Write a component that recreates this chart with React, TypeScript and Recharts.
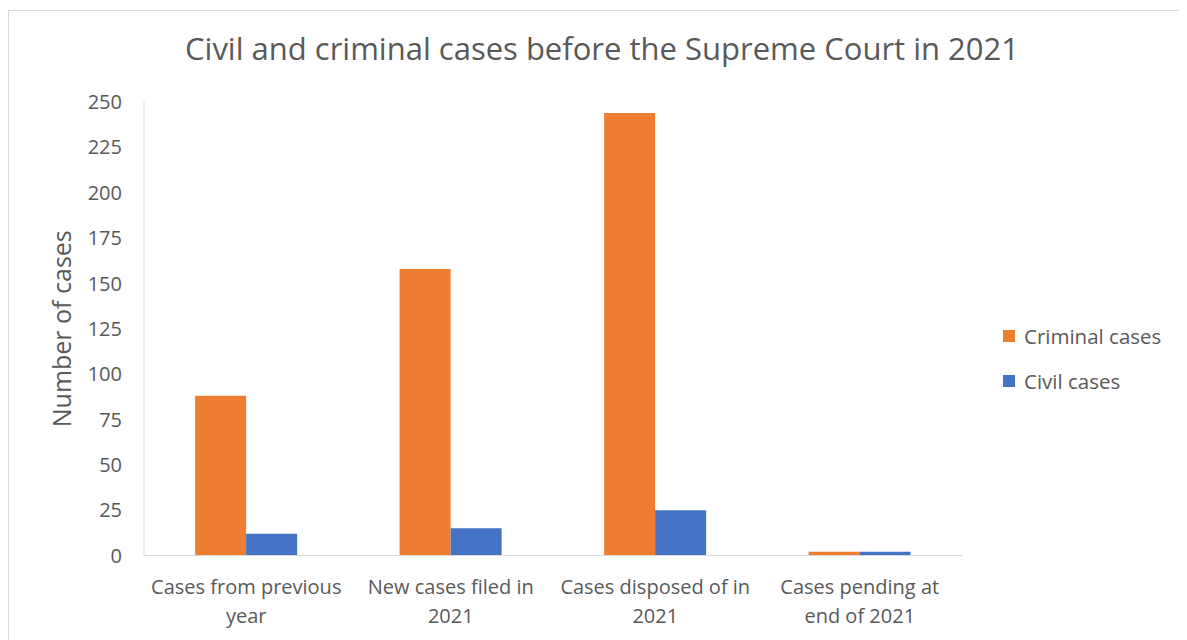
import React from 'react';
import { BarChart, Bar, XAxis, YAxis, Label } from 'recharts';

const categories = [
  'Cases from previous\nyear',
  'New cases filed in\n2021',
  'Cases disposed of in\n2021',
  'Cases pending at\nend of 2021',
];
const criminalCases = [88, 158, 244, 2];
const civilCases = [12, 15, 25, 2];
const yTicks = [0, 25, 50, 75, 100, 125, 150, 175, 200, 225, 250];

const SERIES = [
  { key: 'criminal', name: 'Criminal cases', color: '#ED7D31' },
  { key: 'civil', name: 'Civil cases', color: '#4472C4' },
];

const data = categories.map((c, i) => ({
  category: c,
  criminal: criminalCases[i],
  civil: civilCases[i],
}));

const FONT = '"Open Sans", "Noto Sans", sans-serif';
const TEXT = '#595959';

const CategoryTick = (props: any) => {
  const { x, y, payload } = props;
  const lines = String(payload.value).split('\n');
  return (
    <text x={x} y={y} textAnchor="middle" fill={TEXT} fontSize={20} fontFamily={FONT}>
      {lines.map((l, i) => (
        <tspan key={i} x={x} dy={i === 0 ? 32 : 29}>
          {l}
        </tspan>
      ))}
    </text>
  );
};

const App: React.FC = () => {
  return (
    <div
      style={{
        position: 'relative',
        marginTop: 2,
        width: 1172,
        height: 640,
        border: '1px solid #D9D9D9',
        boxSizing: 'border-box',
        fontFamily: FONT,
        background: '#fff',
      }}
    >
      <div
        style={{
          position: 'absolute',
          top: 16,
          left: 8,
          width: '100%',
          textAlign: 'center',
          fontSize: 31,
          lineHeight: '42px',
          color: TEXT,
        }}
      >
        Civil and criminal cases before the Supreme Court in 2021
      </div>
      <BarChart
        width={1170}
        height={628}
        data={data}
        margin={{ top: 91, right: 217, bottom: 23.5, left: 35 }}
        barGap={0}
        barCategoryGap="25%"
      >
        <XAxis
          dataKey="category"
          height={60}
          tickLine={false}
          axisLine={{ stroke: '#D9D9D9' }}
          tick={<CategoryTick />}
          tickMargin={0}
          interval={0}
        />
        <YAxis
          width={100}
          domain={[0, 250]}
          ticks={yTicks}
          tickLine={false}
          axisLine={{ stroke: '#D9D9D9' }}
          tickMargin={16}
          tick={{ fill: TEXT, fontSize: 20, fontFamily: FONT }}
        >
          <Label
            value="Number of cases"
            angle={-90}
            position="insideLeft"
            offset={18}
            style={{ textAnchor: 'middle', fill: TEXT, fontSize: 25, fontFamily: FONT }}
          />
        </YAxis>
        {SERIES.map((s) => (
          <Bar key={s.key} dataKey={s.key} name={s.name} fill={s.color} isAnimationActive={false} />
        ))}
      </BarChart>
      {SERIES.map((s, i) => (
        <div
          key={s.key}
          style={{
            position: 'absolute',
            left: 994,
            top: 311 + i * 45,
            height: 28,
            display: 'flex',
            alignItems: 'center',
            color: TEXT,
            fontSize: 20.5,
          }}
        >
          <span style={{ width: 12, height: 12, background: s.color, marginRight: 9, display: 'inline-block' }} />
          {s.name}
        </div>
      ))}
    </div>
  );
};

export default App;
